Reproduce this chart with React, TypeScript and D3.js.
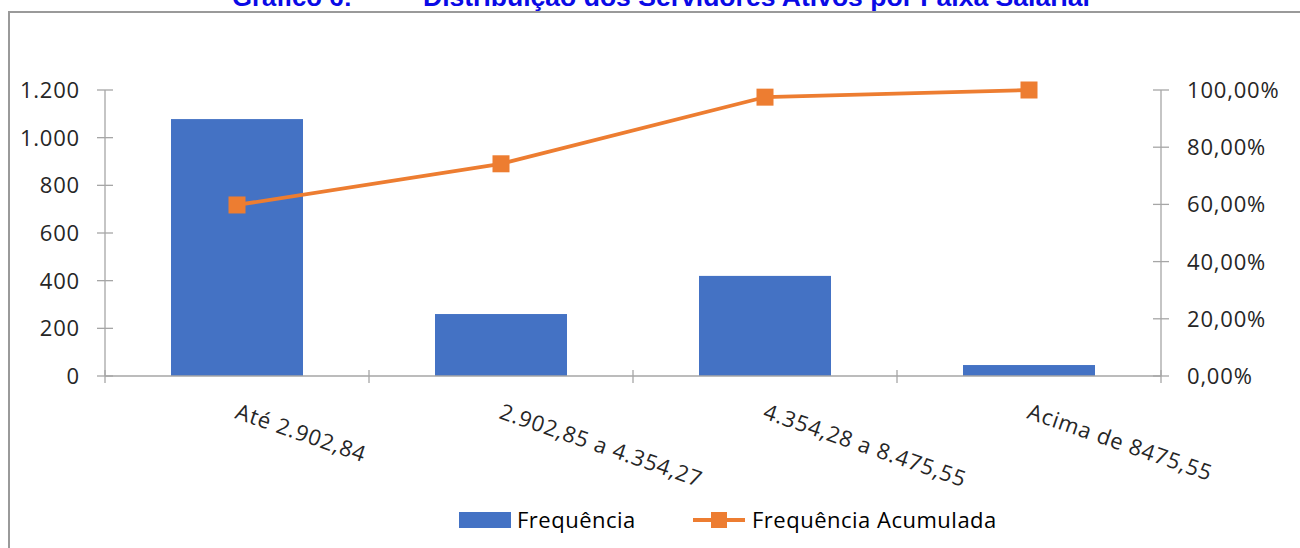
import React from "react";
import * as d3 from "d3";

const categories = ["Até 2.902,84", "2.902,85 a 4.354,27", "4.354,28 a 8.475,55", "Acima de 8475,55"];
const frequencia = [1078, 260, 420, 46];
const acumulada = [0.598, 0.742, 0.975, 1.0];
const leftTicks = [0, 200, 400, 600, 800, 1000, 1200];
const rightTicks = [0, 0.2, 0.4, 0.6, 0.8, 1.0];
const titleLeft = "Gráfico 6:";
const titleRight = "Distribuição dos Servidores Ativos por Faixa Salarial";
const legendLabels = ["Frequência", "Frequência Acumulada"];

const W = 1300;
const H = 548;
const plotL = 105;
const plotR = 1161;
const plotT = 90;
const plotB = 376;
const axisColor = "#a6a6a6";
const textColor = "#262626";
const barColor = "#4472C4";
const lineColor = "#ED7D31";
const font = "'Open Sans', 'Noto Sans', sans-serif";

const fmtLeft = (v: number) => d3.format(",")(v).replace(/,/g, ".");
const fmtRight = (v: number) => (v * 100).toFixed(2).replace(".", ",") + "%";

export default function App() {
  const x = d3.scaleBand<string>().domain(categories).range([plotL, plotR]).paddingInner(0).paddingOuter(0);
  const yL = d3.scaleLinear().domain([0, 1200]).range([plotB, plotT]);
  const yR = d3.scaleLinear().domain([0, 1]).range([plotB, plotT]);
  const bw = x.bandwidth() * 0.5;
  const cx = (c: string) => (x(c) as number) + x.bandwidth() / 2;
  const line = d3
    .line<number>()
    .x((_, i) => cx(categories[i]))
    .y((d) => yR(d));
  const catTicks = [...categories.map((c) => x(c) as number), plotR];
  const ms = 17;
  const ls = 0.8;

  return (
    <svg width={W} height={H} style={{ position: "absolute", left: 0, top: 0, background: "#fff" }}>
      <rect x={0} y={0} width={W} height={H} fill="#fff" />
      {/* frame */}
      <line x1={9} y1={12} x2={W} y2={12} stroke="#9a9a9a" strokeWidth={2} />
      <line x1={9} y1={11} x2={9} y2={H} stroke="#9a9a9a" strokeWidth={2} />
      {/* title */}
      <text x={232} y={6} fontFamily="'Liberation Sans', Arial, sans-serif" fontWeight="bold" fontSize={25} fill="#0a0ae6" textLength={120} lengthAdjust="spacingAndGlyphs">
        {titleLeft}
      </text>
      <text x={423} y={6} fontFamily="'Liberation Sans', Arial, sans-serif" fontWeight="bold" fontSize={25} fill="#0a0ae6" textLength={667} lengthAdjust="spacingAndGlyphs">
        {titleRight}
      </text>

      {/* bars */}
      {categories.map((c, i) => (
        <rect key={c} x={cx(c) - bw / 2} y={yL(frequencia[i])} width={bw} height={plotB - yL(frequencia[i])} fill={barColor} />
      ))}

      {/* axes */}
      <line x1={plotL} y1={plotT} x2={plotL} y2={plotB} stroke={axisColor} strokeWidth={1.3} />
      <line x1={plotR} y1={plotT} x2={plotR} y2={plotB} stroke={axisColor} strokeWidth={1.3} />
      <line x1={plotL} y1={plotB} x2={plotR} y2={plotB} stroke={axisColor} strokeWidth={1.3} />
      {leftTicks.map((t) => (
        <g key={"l" + t}>
          <line x1={plotL - 8} x2={plotL + 8} y1={yL(t)} y2={yL(t)} stroke={axisColor} strokeWidth={1.3} />
          <text x={80} y={yL(t)} dy="0.36em" textAnchor="end" fontFamily={font} fontSize={22} letterSpacing={ls} fill={textColor}>
            {fmtLeft(t)}
          </text>
        </g>
      ))}
      {rightTicks.map((t) => (
        <g key={"r" + t}>
          <line x1={plotR - 8} x2={plotR + 8} y1={yR(t)} y2={yR(t)} stroke={axisColor} strokeWidth={1.3} />
          <text x={1187} y={yR(t)} dy="0.36em" textAnchor="start" fontFamily={font} fontSize={22} letterSpacing={ls} fill={textColor}>
            {fmtRight(t)}
          </text>
        </g>
      ))}
      {catTicks.map((t, i) => (
        <line key={"c" + i} x1={t} x2={t} y1={plotB - 6} y2={plotB + 7} stroke={axisColor} strokeWidth={1.3} />
      ))}
      {categories.map((c) => (
        <text
          key={"t" + c}
          transform={`translate(${cx(c) - 3},418) rotate(19)`}
          textAnchor="start"
          fontFamily={font}
          fontSize={22}
          letterSpacing={ls}
          fill={textColor}
        >
          {c}
        </text>
      ))}

      {/* line */}
      <path d={line(acumulada) || ""} fill="none" stroke={lineColor} strokeWidth={3.8} strokeLinejoin="round" />
      {acumulada.map((v, i) => (
        <rect key={"m" + i} x={cx(categories[i]) - ms / 2} y={yR(v) - ms / 2} width={ms} height={ms} fill={lineColor} />
      ))}

      {/* legend */}
      <rect x={459} y={512} width={52} height={16} fill={barColor} />
      <text x={517} y={520} dy="0.36em" fontFamily={font} fontSize={22} letterSpacing={0.5} fill="#000">
        {legendLabels[0]}
      </text>
      <line x1={693} x2={745} y1={520} y2={520} stroke={lineColor} strokeWidth={3.8} />
      <rect x={719 - 8} y={512} width={16} height={16} fill={lineColor} />
      <text x={752} y={520} dy="0.36em" fontFamily={font} fontSize={22} letterSpacing={0.5} fill="#000">
        {legendLabels[1]}
      </text>
    </svg>
  );
}
